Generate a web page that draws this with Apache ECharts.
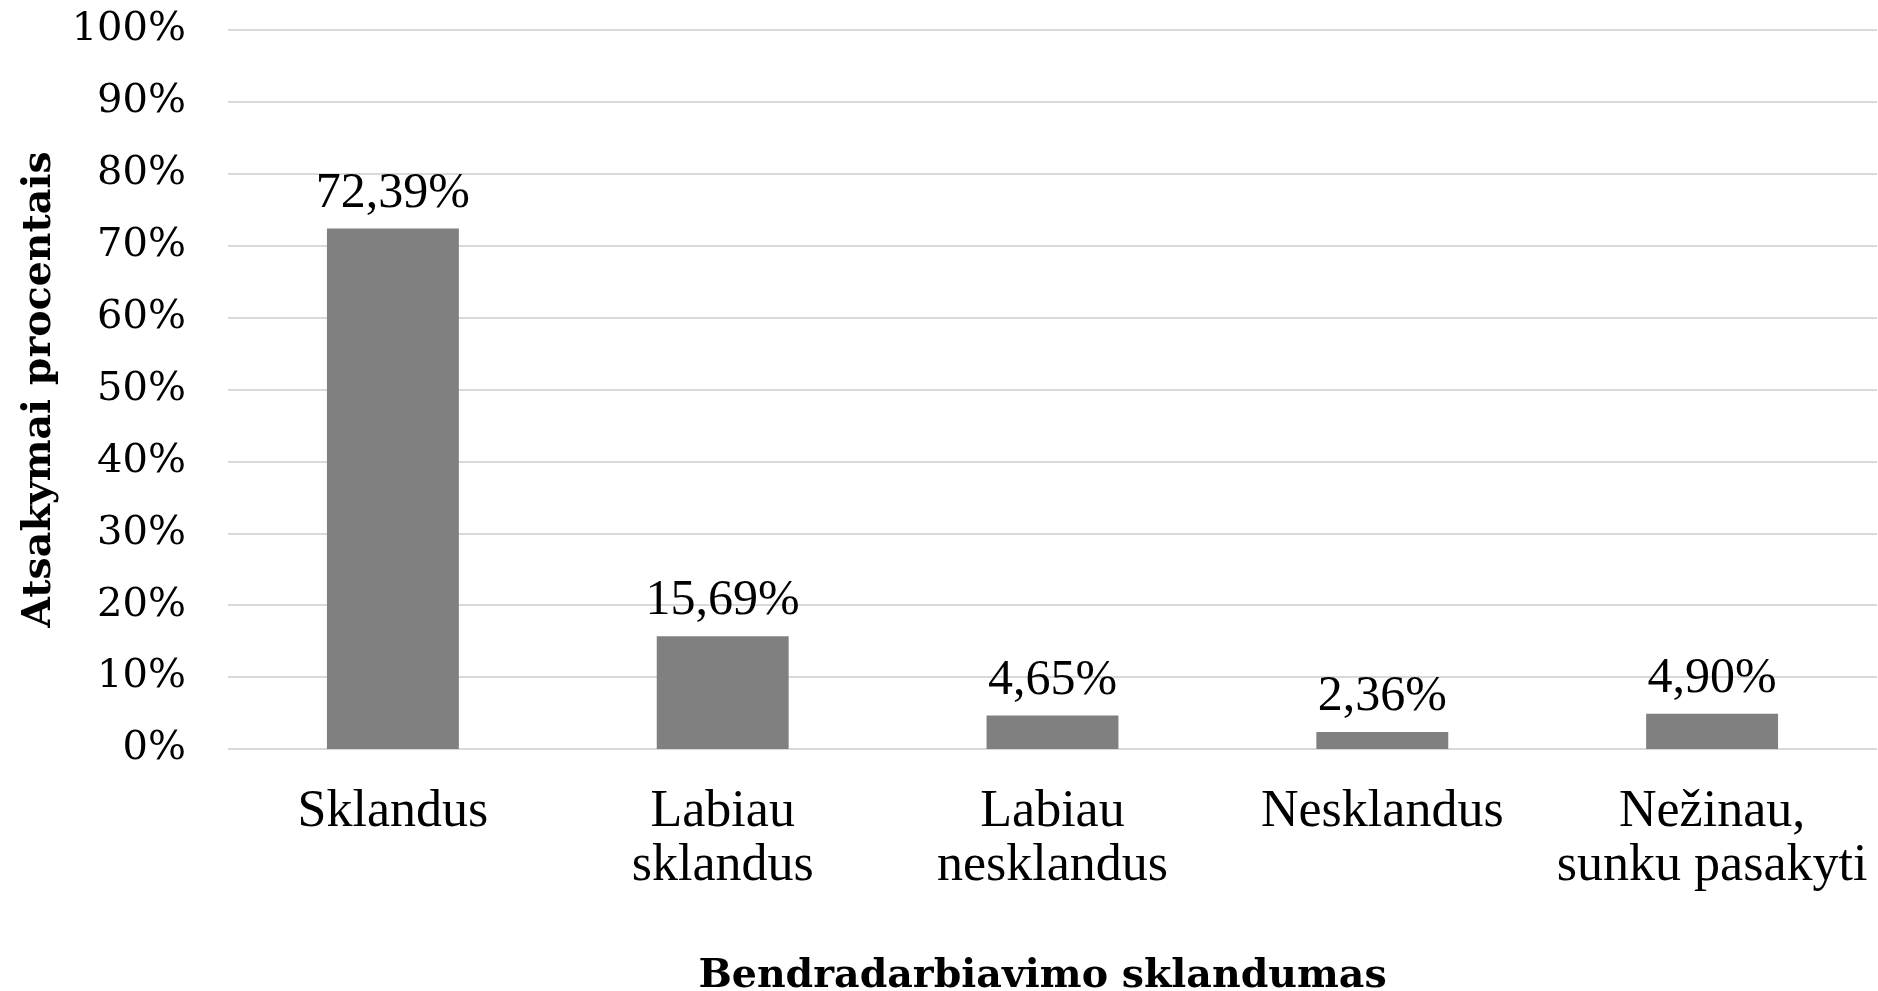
<!DOCTYPE html>
<html>
<head>
<meta charset="utf-8">
<script src="https://cdn.jsdelivr.net/npm/echarts@6/dist/echarts.min.js"></script>
<style>
  html, body { margin: 0; padding: 0; background: #fff; }
  #chart { width: 1878px; height: 991px; }
</style>
</head>
<body>
<div id="chart"></div>
<script>
/* ---------- data ---------- */
const categories = ['Sklandus', 'Labiau\nsklandus', 'Labiau\nnesklandus', 'Nesklandus', 'Nežinau,\nsunku pasakyti']
const shares = [72.39, 15.69, 4.65, 2.36, 4.90]
const yTicks = { min: 0, max: 100, step: 10 }

const xTitle = 'Bendradarbiavimo sklandumas'
const yTitle = 'Atsakymai procentais'

/* ---------- styles ---------- */
const barColor = '#808080'
const gridColor = '#d9d9d9'
const textColor = '#000'

const chart = echarts.init(document.getElementById('chart'))

/** 72.39 -> "72,39%" */
function pct(v) {
  return v.toFixed(2).replace('.', ',') + '%'
}

chart.setOption({
  animation: false,
  grid: { left: 228, right: 1, top: 30, bottom: 242, outerBoundsMode: 'none', containLabel: false },
  xAxis: {
    type: 'category',
    data: categories,
    name: xTitle,
    nameLocation: 'middle',
    nameGap: 208,
    nameTextStyle: {
      fontFamily: 'DejaVu Serif', fontWeight: 'bold', fontSize: 39.5, color: textColor,
      padding: [0, 20, 0, 0]
    },
    axisLine: { show: false },
    axisTick: { show: false },
    axisLabel: {
      interval: 0,
      margin: 36,
      fontFamily: 'Liberation Serif',
      fontSize: 52,
      lineHeight: 54,
      color: textColor
    }
  },
  yAxis: {
    type: 'value',
    min: yTicks.min,
    max: yTicks.max,
    interval: yTicks.step,
    name: yTitle,
    nameLocation: 'middle',
    nameGap: 168,
    nameRotate: 90,
    nameTextStyle: {
      fontFamily: 'DejaVu Serif', fontWeight: 'bold', fontSize: 39.5, color: textColor
    },
    axisLine: { show: false },
    axisTick: { show: false },
    axisLabel: {
      margin: 42,
      formatter: '{value}%',
      fontFamily: 'DejaVu Serif',
      fontSize: 40,
      color: textColor
    },
    splitLine: { lineStyle: { color: gridColor, width: 2 } }
  },
  series: [
    {
      type: 'bar',
      data: shares,
      barWidth: '40%',
      itemStyle: { color: barColor },
      label: {
        show: true,
        position: 'top',
        distance: 10,
        formatter: (p) => pct(p.value),
        fontFamily: 'Liberation Serif',
        fontSize: 50,
        color: textColor
      }
    }
  ]
})
</script>
</body>
</html>
